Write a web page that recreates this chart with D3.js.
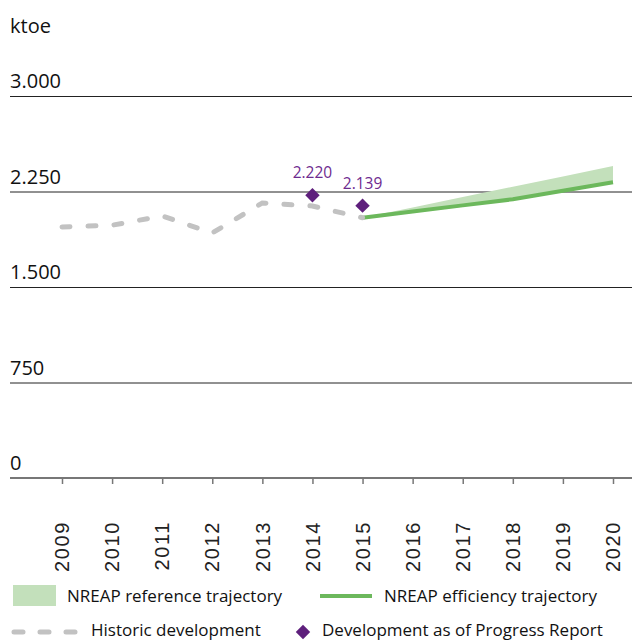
<!DOCTYPE html>
<html>
<head>
<meta charset="utf-8">
<script src="https://cdn.jsdelivr.net/npm/d3@7"></script>
<style>
  body { margin: 0; background: #fff; }
  svg { display: block; }
</style>
</head>
<body>
<div id="chart"></div>
<script>
// chart data
const years = [2009, 2010, 2011, 2012, 2013, 2014, 2015, 2016, 2017, 2018, 2019, 2020];
const yTicks = [0, 750, 1500, 2250, 3000];

const histYears = [2009, 2010, 2011, 2012, 2013, 2014, 2015];
const histValues = [1971, 1985, 2058, 1924, 2160, 2136, 2044];

const nreapYears = [2015, 2016, 2017, 2018, 2019, 2020];
const efficiencyValues = [2044, 2093, 2141, 2189, 2256, 2322];
const referenceValues = [2044, 2125, 2206, 2287, 2368, 2450];

const progressYears = [2014, 2015];
const progressValues = [2220, 2139];

const legendLabels = ["NREAP reference trajectory", "NREAP efficiency trajectory", "Historic development", "Development as of Progress Report"];

const width = 632;
const height = 641;

const green = "#6cb85c";
const lightGreen = "#c3e0bb";
const purple = "#5e1f7c";
const grey = "#c2c2c2";

const svg = d3.select("#chart")
    .append("svg")
    .attr("width", width)
    .attr("height", height);

const x = d3.scalePoint().domain(years).range([62, 613]);
const y = d3.scaleLinear().domain([0, 3000]).range([478, 96]);

// numbers use a dot as thousands separator
const locale = d3.formatLocale({ decimal: ",", thousands: ".", grouping: [3], currency: ["", ""] });
const fmtInt = locale.format(",d");

// unit label
svg.append("text")
    .attr("x", 10)
    .attr("y", 33)
    .text("ktoe")
    .attr("font-family", "'Open Sans', sans-serif")
    .attr("font-size", "20px")
    .attr("fill", "#111");

// gridlines + y labels
yTicks.forEach(t => {
    if (t > 0) {
        svg.append("line")
            .attr("x1", 10).attr("x2", width)
            .attr("y1", y(t) + 0.5).attr("y2", y(t) + 0.5)
            .attr("stroke", "#222")
            .attr("stroke-width", 1);
    }
    svg.append("text")
        .attr("x", 10)
        .attr("y", y(t) - 8)
        .text(fmtInt(t))
        .attr("font-family", "'Open Sans', sans-serif")
        .attr("font-size", "20px")
        .attr("fill", "#111");
});

// x axis
const xAxis = d3.axisBottom(x).tickSize(6).tickFormat("");
const gx = svg.append("g")
    .attr("transform", `translate(0, ${y(0)})`)
    .call(xAxis);
gx.select(".domain").remove();
gx.selectAll(".tick line").attr("stroke", "#777").attr("stroke-width", 1.5);
svg.append("line")
    .attr("x1", 10).attr("x2", width)
    .attr("y1", y(0)).attr("y2", y(0))
    .attr("stroke", "#777")
    .attr("stroke-width", 2);

// rotated year labels
years.forEach(yr => {
    svg.append("text")
        .attr("transform", `translate(${x(yr)}, 521) rotate(-90)`)
        .attr("dy", "0.36em")
        .attr("text-anchor", "end")
        .text(yr)
        .attr("font-family", "'Liberation Sans', Arial, sans-serif")
        .attr("font-size", "20px")
        .attr("letter-spacing", "1.6px")
        .attr("fill", "#222");
});

// reference band
const band = nreapYears.map((yr, i) => ({ yr, lo: efficiencyValues[i], hi: referenceValues[i] }));
svg.append("path")
    .datum(band)
    .attr("d", d3.area().x(d => x(d.yr)).y0(d => y(d.lo)).y1(d => y(d.hi)))
    .attr("fill", lightGreen);

// efficiency line
svg.append("path")
    .datum(nreapYears.map((yr, i) => [x(yr), y(efficiencyValues[i])]))
    .attr("d", d3.line())
    .attr("fill", "none")
    .attr("stroke", green)
    .attr("stroke-width", 4);

// historic development
svg.append("path")
    .datum(histYears.map((yr, i) => [x(yr), y(histValues[i])]))
    .attr("d", d3.line())
    .attr("fill", "none")
    .attr("stroke", grey)
    .attr("stroke-width", 5)
    .attr("stroke-linecap", "round")
    .attr("stroke-dasharray", "8,18");

// progress report points
const diamond = d3.symbol().type(d3.symbolSquare).size(104);
progressYears.forEach((yr, i) => {
    svg.append("path")
        .attr("d", diamond())
        .attr("transform", `translate(${x(yr)}, ${y(progressValues[i])}) rotate(45)`)
        .attr("fill", purple);
    svg.append("text")
        .attr("x", x(yr))
        .attr("y", y(progressValues[i]) - 17)
        .attr("text-anchor", "middle")
        .text(locale.format(",.3f")(progressValues[i] / 1000).replace(",", "."))
        .attr("font-family", "'Open Sans', sans-serif")
        .attr("font-size", "15.5px")
        .attr("fill", "#6e2b8f");
});

// legend
const legendFont = (sel) => sel
    .attr("font-family", "'Open Sans', sans-serif")
    .attr("font-size", "17px")
    .attr("fill", "#111");

svg.append("rect")
    .attr("x", 13).attr("y", 585)
    .attr("width", 43).attr("height", 21)
    .attr("fill", lightGreen);
svg.append("text").attr("x", 67).attr("y", 602).text(legendLabels[0]).call(legendFont);

svg.append("line")
    .attr("x1", 320).attr("x2", 372)
    .attr("y1", 596).attr("y2", 596)
    .attr("stroke", green)
    .attr("stroke-width", 4);
svg.append("text").attr("x", 384).attr("y", 602).text(legendLabels[1]).call(legendFont);

svg.append("line")
    .attr("x1", 14).attr("x2", 78)
    .attr("y1", 632).attr("y2", 632)
    .attr("stroke", grey)
    .attr("stroke-width", 5)
    .attr("stroke-linecap", "round")
    .attr("stroke-dasharray", "9,17");
svg.append("text").attr("x", 91).attr("y", 636).text(legendLabels[2]).call(legendFont);

svg.append("path")
    .attr("d", diamond())
    .attr("transform", "translate(303, 632) rotate(45)")
    .attr("fill", purple);
svg.append("text").attr("x", 322).attr("y", 636).text(legendLabels[3]).call(legendFont);
</script>
</body>
</html>
